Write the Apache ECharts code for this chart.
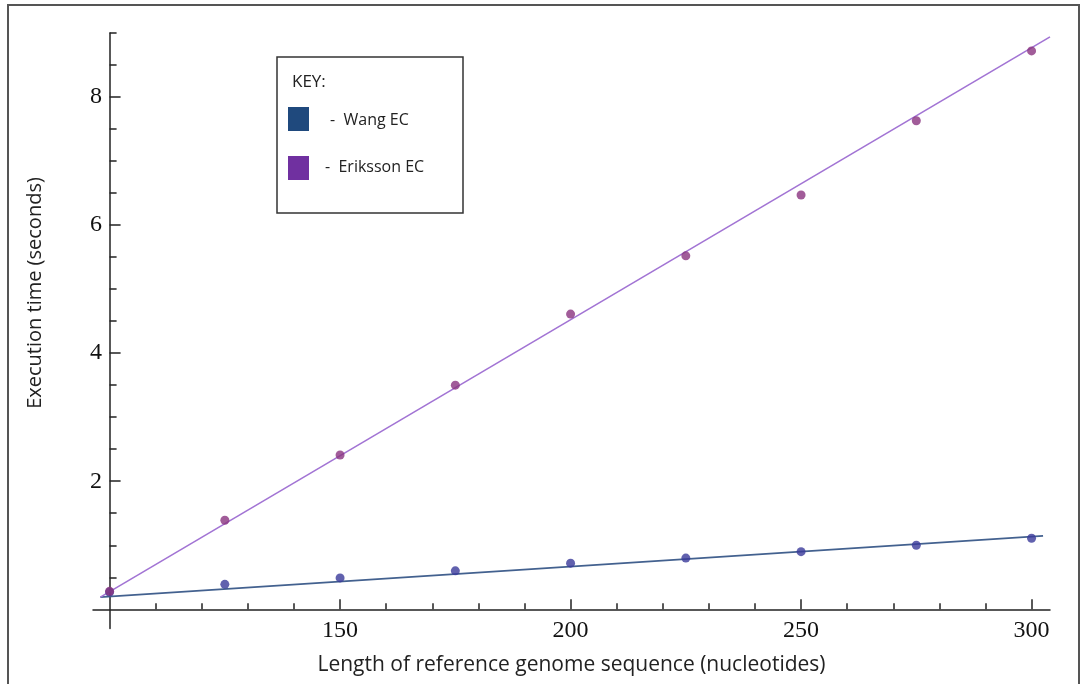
<!DOCTYPE html>
<html>
<head>
<meta charset="utf-8">
<script src="https://cdn.jsdelivr.net/npm/echarts@6/dist/echarts.min.js"></script>
<style>html,body{margin:0;padding:0;background:#fff}#c{width:1083px;height:684px}</style>
</head>
<body>
<div id="c"></div>
<script>
// ---- data ----
const xValues = [100, 125, 150, 175, 200, 225, 250, 275, 300];
const wangTimes = [0.27, 0.39, 0.49, 0.60, 0.72, 0.80, 0.90, 1.00, 1.11];
const erikssonTimes = [0.28, 1.39, 2.41, 3.50, 4.61, 5.52, 6.47, 7.63, 8.72];
const wangFitX = [98, 302.5];
const wangFitY = [0.19, 1.145];
const erikssonFitX = [98, 304];
const erikssonFitY = [0.19, 8.94];
const xMajorTicks = [150, 200, 250, 300];
const xMinorTicks = [110, 120, 130, 140, 160, 170, 180, 190, 210, 220, 230, 240, 260, 270, 280, 290];
const yMajorTicks = [2, 4, 6, 8];
const yMinorTicks = [0.5, 1, 1.5, 2.5, 3, 3.5, 4.5, 5, 5.5, 6.5, 7, 7.5, 8.5, 9];
const xOrigin = 100; // axes cross at (100, 0)

const shift = v => v - xOrigin;
const pts = (xs, ys) => xs.map((x, i) => [shift(x), ys[i]]);

const chart = echarts.init(document.getElementById('c'), null, {renderer: 'canvas'});
const axisColor = '#222';
const serif = '"Liberation Serif", "Times New Roman", serif';
const sans = '"Open Sans", Lato, sans-serif';

function xAx(ticks, len, labels) {
  return {
    type: 'value', position: 'bottom', min: -3.6, max: 204,
    axisLine: {show: labels, onZero: true, onZeroAxisIndex: 0, lineStyle: {color: axisColor, width: 1.5}},
    axisTick: {show: true, inside: true, length: len, customValues: ticks.map(shift), lineStyle: {color: axisColor, width: 1.5}},
    axisLabel: {show: labels, customValues: xMajorTicks.map(shift), formatter: v => String(Math.round(v + xOrigin)),
      fontFamily: serif, fontSize: 24, color: '#111', margin: -10},
    splitLine: {show: false},
    name: labels ? 'Length of reference genome sequence (nucleotides)' : '',
    nameLocation: 'middle', nameGap: 26,
    nameTextStyle: {fontFamily: sans, fontSize: 21, color: '#222'}
  };
}
function yAx(ticks, len, labels) {
  return {
    type: 'value', position: 'left', min: -0.3, max: 9.0,
    axisLine: {show: labels, onZero: true, onZeroAxisIndex: 0, lineStyle: {color: axisColor, width: 1.5}},
    axisTick: {show: true, inside: true, length: len, customValues: ticks, lineStyle: {color: axisColor, width: 1.5}},
    axisLabel: {show: labels, customValues: yMajorTicks, fontFamily: serif, fontSize: 24, color: '#111', margin: -9},
    splitLine: {show: false}
  };
}

chart.setOption({
  animation: false,
  backgroundColor: '#fff',
  grid: {left: 93, right: 33, top: 33, bottom: 55.5, containLabel: false, outerBoundsMode: 'none'},
  xAxis: [xAx(xMajorTicks, 10, true), xAx(xMinorTicks, 6, false)],
  yAxis: [yAx(yMajorTicks, 11, true), yAx(yMinorTicks, 7, false)],
  series: [
    {type: 'line', name: 'Wang fit', data: pts(wangFitX, wangFitY), symbol: 'none',
      lineStyle: {color: '#43618f', width: 1.8}, z: 2},
    {type: 'line', name: 'Eriksson fit', data: pts(erikssonFitX, erikssonFitY), symbol: 'none',
      lineStyle: {color: '#a274d4', width: 1.6}, z: 2},
    {type: 'scatter', name: 'Wang EC', data: pts(xValues, wangTimes), symbol: 'circle', symbolSize: 9,
      itemStyle: {color: '#3a3a9a'}, z: 3},
    {type: 'scatter', name: 'Eriksson EC', data: pts(xValues, erikssonTimes), symbol: 'circle', symbolSize: 9,
      itemStyle: {color: '#8a3380'}, z: 4}
  ],
  graphic: [
    {type: 'polyline', shape: {points: [[8, 700], [8, 5], [1079, 5], [1079, 700]]}, style: {stroke: '#555', lineWidth: 2, fill: null}, silent: true},
    {type: 'text', x: 35, y: 293, rotation: Math.PI / 2,
      style: {text: 'Execution time (seconds)', font: '20px ' + sans, fill: '#222', align: 'center', verticalAlign: 'middle'}},
    {type: 'rect', shape: {x: 277, y: 57, width: 186, height: 156}, style: {fill: '#fff', stroke: '#333', lineWidth: 1.5}, z: 10},
    {type: 'text', x: 292, y: 82, style: {text: 'KEY:', font: '17px ' + sans, fill: '#222', verticalAlign: 'middle'}, z: 11},
    {type: 'rect', shape: {x: 288, y: 107, width: 21, height: 24}, style: {fill: '#1f497d'}, z: 11},
    {type: 'text', x: 330, y: 120, style: {text: '-  Wang EC', font: '16px ' + sans, fill: '#222', verticalAlign: 'middle'}, z: 11},
    {type: 'rect', shape: {x: 288, y: 156, width: 21, height: 24}, style: {fill: '#7030a0'}, z: 11},
    {type: 'text', x: 325, y: 167, style: {text: '-  Eriksson EC', font: '16px ' + sans, fill: '#222', verticalAlign: 'middle'}, z: 11}
  ]
});
</script>
</body>
</html>
